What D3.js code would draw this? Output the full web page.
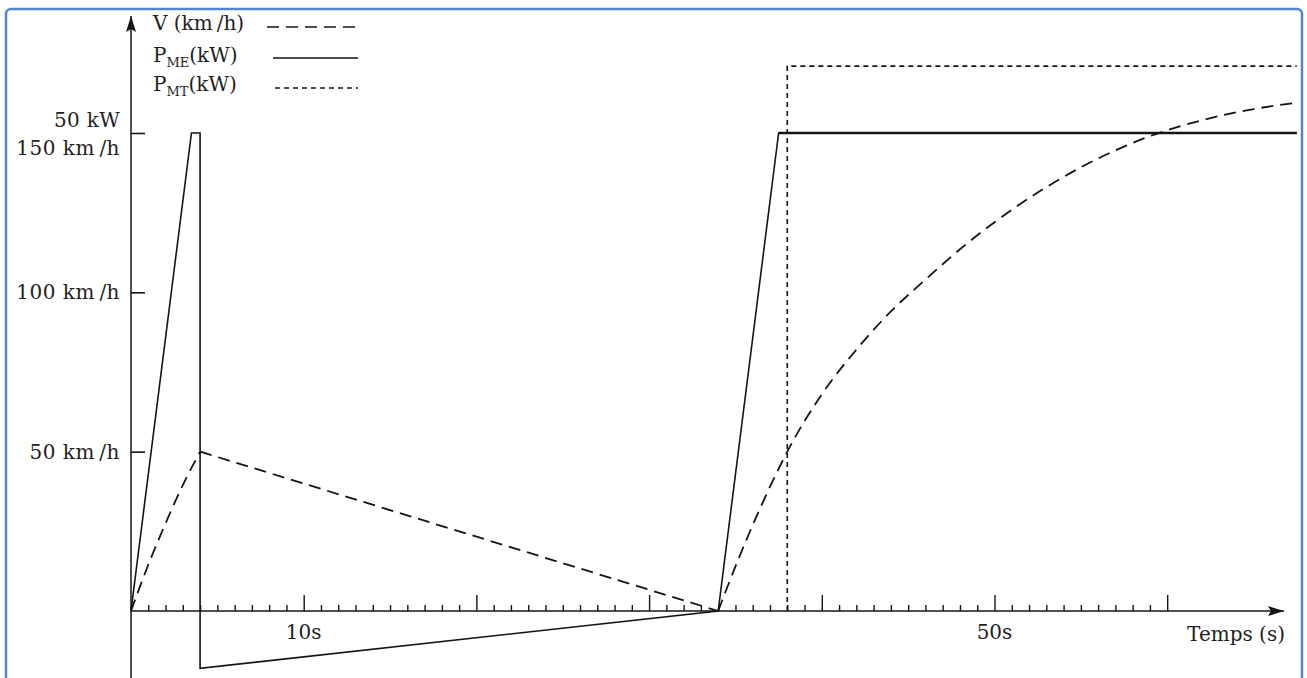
<!DOCTYPE html>
<html>
<head>
<meta charset="utf-8">
<script src="https://cdn.jsdelivr.net/npm/d3@7/dist/d3.min.js"></script>
<style>
  html, body { margin: 0; padding: 0; background: #ffffff; }
  svg { display: block; }
  text { font-family: "DejaVu Serif", "Liberation Serif", serif; fill: #1e1e1e; }
</style>
</head>
<body>
<svg id="chart" width="1307" height="678"></svg>
<script>
// Vehicle speed (km/h) over time (s): first acceleration, coasting, second acceleration
const speedRiseTime   = [0, 1, 2, 3, 4];
const speedRiseKmh    = [0, 14.5, 27.5, 39.5, 50];
const speedCoastTime  = [4, 34];
const speedCoastKmh   = [50, 0];
const speedRise2Time  = [34, 35, 36, 37, 38, 40, 42, 44, 46, 48, 50, 53, 56, 59, 62, 65, 67.5];
const speedRise2Kmh   = [0, 14, 27, 39, 50, 68, 82, 94, 104, 113.5, 122, 133, 142, 149, 154, 157.5, 159.5];

// Electric motor power P_ME (kW)
const pmeTime = [0, 3.5, 4, 4, 34, 37.5, 67.5];
const pmeKw   = [0, 50, 50, -6, 0, 50, 50];

// Thermal engine power P_MT (kW)
const pmtTime = [38, 38, 67.5];
const pmtKw   = [0, 57, 57];

// Axis ticks and labels
const minorTicks   = d3.range(1, 60).filter(t => t % 10 !== 0);
const majorTicks   = [10, 20, 30, 40, 50, 60];
const xLabelTimes  = [10, 50];
const xLabelTexts  = ["10s", "50s"];
const yTickSpeeds  = [50, 100, 150];
const yTickTexts   = ["50 km\u2009/h", "100 km\u2009/h", "150 km\u2009/h"];
const powerLabel   = { kw: 50, text: "50 kW" };

const legendItems = [
  { main: "V (km\u2009/h)", sub: null, rest: "", dash: "12,7" },
  { main: "P", sub: "ME", rest: "(kW)", dash: null },
  { main: "P", sub: "MT", rest: "(kW)", dash: "5,4" }
];

const svg = d3.select("#chart");
const ink = "#141414";

// Scales: time, speed and power share the same vertical space (150 km/h <-> 50 kW)
const x = d3.scaleLinear().domain([0, 60]).range([131, 1167.2]);
const ySpeed = d3.scaleLinear().domain([0, 150]).range([611, 133]);
const yPower = d3.scaleLinear().domain([0, 50]).range([611, 133]);

// Outer frame
svg.append("rect")
  .attr("x", 6).attr("y", 9).attr("width", 1296).attr("height", 700)
  .attr("rx", 5)
  .attr("fill", "none").attr("stroke", "#4f86cf").attr("stroke-width", 2.5);

// Arrow marker
const defs = svg.append("defs");
defs.append("marker").attr("id", "arrow")
  .attr("viewBox", "0 0 16 10").attr("refX", 16).attr("refY", 5)
  .attr("markerWidth", 16).attr("markerHeight", 10)
  .attr("markerUnits", "userSpaceOnUse").attr("orient", "auto")
  .append("path").attr("d", "M0,0 L16,5 L0,10 L3,5 Z").attr("fill", ink);

// Axes lines
svg.append("line")
  .attr("x1", x(0)).attr("y1", 700).attr("x2", x(0)).attr("y2", 16)
  .attr("stroke", ink).attr("stroke-width", 1.5).attr("marker-end", "url(#arrow)");
svg.append("line")
  .attr("x1", x(0)).attr("y1", ySpeed(0)).attr("x2", 1284).attr("y2", ySpeed(0))
  .attr("stroke", ink).attr("stroke-width", 1.5).attr("marker-end", "url(#arrow)");

// X ticks (drawn upward from the axis)
function tickGroup(values, size) {
  const g = svg.append("g").attr("transform", `translate(0,${ySpeed(0)})`)
    .call(d3.axisTop(x).tickValues(values).tickSize(size).tickFormat(""));
  g.select(".domain").remove();
  g.selectAll("line").attr("stroke", ink).attr("stroke-width", 1.4);
}
tickGroup(minorTicks, 6);
tickGroup(majorTicks, 16);

svg.selectAll("text.xlab").data(xLabelTimes).enter().append("text")
  .attr("class", "xlab")
  .attr("x", d => x(d)).attr("y", 639)
  .attr("text-anchor", "middle").attr("font-size", 20)
  .text((d, i) => xLabelTexts[i]);

svg.append("text")
  .attr("x", 1285).attr("y", 641).attr("text-anchor", "end")
  .attr("font-size", 20).text("Temps (s)");

// Y ticks (to the right of the axis)
const yg = svg.append("g").attr("transform", `translate(${x(0)},0)`)
  .call(d3.axisRight(ySpeed).tickValues(yTickSpeeds).tickSize(14).tickFormat(""));
yg.select(".domain").remove();
yg.selectAll("line").attr("stroke", ink).attr("stroke-width", 1.6);

svg.selectAll("text.ylab").data(yTickSpeeds).enter().append("text")
  .attr("class", "ylab")
  .attr("x", 120)
  .attr("y", d => d === 150 ? ySpeed(d) + 22 : ySpeed(d) + 7)
  .attr("text-anchor", "end").attr("font-size", 20).attr("letter-spacing", 0.5)
  .text((d, i) => yTickTexts[i]);

svg.append("text")
  .attr("x", 120).attr("y", yPower(powerLabel.kw) - 6)
  .attr("text-anchor", "end").attr("font-size", 20).attr("letter-spacing", 0.3)
  .text(powerLabel.text);

// Series
const zip = (ts, vs) => ts.map((t, i) => [t, vs[i]]);

const speedLine = d3.line().x(d => x(d[0])).y(d => ySpeed(d[1]));
const speedCurve = d3.line().x(d => x(d[0])).y(d => ySpeed(d[1])).curve(d3.curveMonotoneX);
const powerLine = d3.line().x(d => x(d[0])).y(d => yPower(d[1]));

function strokePath(d, dash, width) {
  svg.append("path").attr("d", d)
    .attr("fill", "none").attr("stroke", ink)
    .attr("stroke-width", width)
    .attr("stroke-dasharray", dash)
    .attr("stroke-linejoin", "miter");
}

strokePath(powerLine(zip(pmtTime, pmtKw)), "5,4", 1.6);
strokePath(powerLine(zip(pmeTime, pmeKw)), null, 1.6);
// Sustained 50 kW plateau of the electric motor drawn heavier
const plateau = zip(pmeTime, pmeKw).filter(d => d[0] >= 37.5);
strokePath(powerLine(plateau), null, 2.6);

strokePath(speedCurve(zip(speedRiseTime, speedRiseKmh)), "12,7", 1.8);
strokePath(speedLine(zip(speedCoastTime, speedCoastKmh)), "12,7", 1.8);
strokePath(speedCurve(zip(speedRise2Time, speedRise2Kmh)), "12,7", 1.8);

// Legend
const legendY = [30, 62, 91];
const legendLineY = [27, 58, 88];
const legendLineX = [[267, 358], [273, 358], [275, 358]];
legendItems.forEach((item, i) => {
  const t = svg.append("text").attr("x", 153).attr("y", legendY[i]).attr("font-size", 20);
  t.append("tspan").text(item.main);
  if (item.sub) {
    t.append("tspan").attr("font-size", 13).attr("dy", 5).text(item.sub);
    t.append("tspan").attr("dy", -5).text(item.rest);
  }
  svg.append("line")
    .attr("x1", legendLineX[i][0]).attr("x2", legendLineX[i][1])
    .attr("y1", legendLineY[i]).attr("y2", legendLineY[i])
    .attr("stroke", ink).attr("stroke-width", 1.6)
    .attr("stroke-dasharray", item.dash);
});
</script>
</body>
</html>
